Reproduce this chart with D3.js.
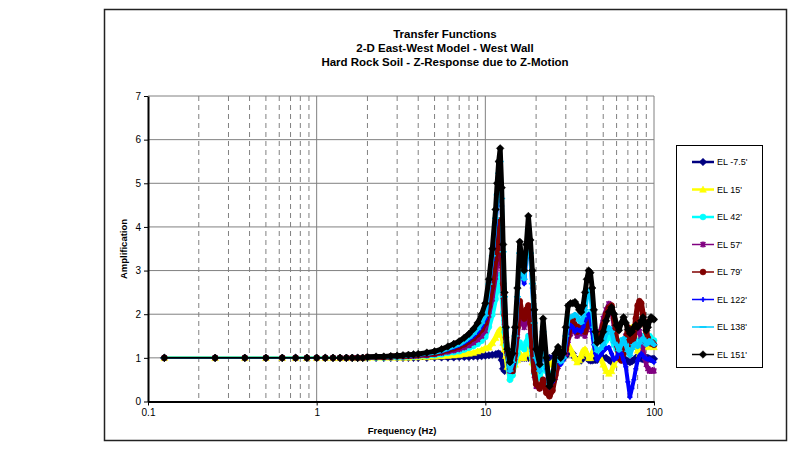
<!DOCTYPE html>
<html>
<head>
<meta charset="utf-8">
<script src="https://cdn.jsdelivr.net/npm/d3@7"></script>
<style>
  body { margin: 0; background: #fff; }
  svg { display: block; font-family: Arial, 'Liberation Sans', sans-serif; }
</style>
</head>
<body>
<script>
// sample frequencies (Hz)
const freqs = [
  0.125, 0.25, 0.375, 0.5, 0.625, 0.75, 0.875, 1, 1.125, 1.25, 1.375, 1.5, 1.625, 1.75, 1.875,
  2, 2.25, 2.5, 2.75, 3, 3.25, 3.5, 3.75, 4, 4.5, 5, 5.5, 6, 6.5, 7, 7.5, 8, 8.5, 9, 9.5, 10,
  10.5, 11, 11.5, 11.75, 12, 12.25, 12.5, 12.75, 13, 13.25, 13.5,
  14, 14.5, 15, 15.5, 16, 16.5, 17, 17.5, 18, 18.5, 19, 19.5, 20,
  21, 22, 23, 24, 25, 26, 27, 28, 29, 30, 31, 32, 33, 34, 35, 36, 37, 38, 39, 40, 41, 42, 43, 44, 45, 46,
  48, 50, 52, 54, 56, 58, 60, 62, 64, 66, 68, 70, 72, 74, 76, 78, 80, 82, 84, 86, 88, 90, 92, 94, 96, 98, 100
];

const elM7_5 = [
  1, 1, 1, 1, 1, 1, 1, 1, 1, 1, 1, 1, 1, 1, 1,
  1, 1, 1, 1, 1, 1, 1, 1, 1, 1, 1.01, 1.01, 1.01, 1.01, 1.02, 1.02, 1.02, 1.03, 1.03, 1.04, 1.05,
  1.06, 1.07, 1.08, 1.09, 1.1, 1.08, 0.95, 0.75, 0.7, 0.8, 0.9,
  0.97, 1, 1, 1, 1, 1, 1, 1, 1, 1, 1, 1, 1,
  1, 1, 1, 1, 1, 1, 1, 1, 1.02, 1.05, 1.1, 1.15, 1.1, 1.0, 0.95, 0.95, 0.94, 1.0, 1.05, 1.0, 0.95, 0.94, 0.94, 0.95, 0.95, 0.95,
  1.0, 1.0, 1.0, 0.95, 0.9, 0.92, 0.98, 1.0, 1.02, 1.0, 0.95, 0.92, 0.9, 0.92, 0.95, 1.0, 1.02, 1.0, 0.98, 0.97, 0.98, 1.0, 1.0, 0.98, 0.97, 0.97, 0.98
];

const el15 = [
  1, 1, 1, 1, 1, 1, 1, 1, 1, 1, 1, 1, 1, 1, 1,
  1, 1.01, 1.01, 1.01, 1.01, 1.01, 1.01, 1.02, 1.02, 1.02, 1.03, 1.04, 1.05, 1.06, 1.07, 1.09, 1.1, 1.12, 1.15, 1.18, 1.22,
  1.24, 1.34, 1.46, 1.54, 1.61, 1.65, 1.53, 1.35, 1.2, 1.05, 0.8,
  0.55, 0.65, 0.85, 0.95, 1.1, 1.0, 1.0, 1.15, 1.25, 1.1, 0.9, 0.7, 0.6,
  0.65, 0.75, 0.8, 0.85, 0.9, 0.95, 1.0, 1.05, 1.15, 1.3, 1.3, 1.2, 1.1, 1.0, 0.9, 0.95, 1.05, 1.17, 1.2, 1.1, 1.0, 1.0, 1.1, 1.2, 1.2, 1.15,
  1.0, 0.85, 0.7, 0.64, 0.7, 0.85, 1.0, 1.1, 1.2, 1.3, 1.35, 1.45, 1.6, 1.7, 1.6, 1.35, 1.17, 1.1, 1.2, 1.3, 1.33, 1.3, 1.25, 1.3, 1.33, 1.3, 1.25
];

const el42 = [
  1, 1, 1, 1, 1, 1, 1, 1, 1, 1, 1, 1, 1, 1, 1,
  1.01, 1.01, 1.01, 1.02, 1.02, 1.02, 1.03, 1.03, 1.04, 1.05, 1.06, 1.08, 1.11, 1.13, 1.15, 1.19, 1.23, 1.27, 1.32, 1.39, 1.48,
  1.71, 1.99, 2.35, 2.58, 2.79, 2.9, 2.54, 2.03, 1.59, 1.29, 1.08,
  0.5, 0.6, 0.9, 1.1, 1.35, 1.25, 1.2, 1.35, 1.5, 1.3, 1.0, 0.65, 0.5,
  0.55, 0.8, 0.7, 0.6, 0.65, 0.8, 0.95, 0.95, 1.0, 1.2, 1.5, 1.6, 1.65, 1.7, 1.6, 1.55, 1.6, 1.7, 1.8, 1.9, 2.0, 1.95, 1.7, 1.45, 1.2, 1.1,
  1.15, 1.25, 1.4, 1.5, 1.45, 1.3, 1.2, 1.3, 1.4, 1.35, 1.25, 1.2, 1.3, 1.4, 1.45, 1.4, 1.35, 1.4, 1.45, 1.5, 1.45, 1.4, 1.45, 1.5, 1.45, 1.4, 1.4
];

const el57 = [
  1, 1, 1, 1, 1, 1, 1, 1, 1, 1, 1, 1, 1, 1, 1,
  1.01, 1.02, 1.02, 1.02, 1.03, 1.03, 1.04, 1.04, 1.05, 1.06, 1.08, 1.11, 1.14, 1.17, 1.2, 1.24, 1.29, 1.35, 1.42, 1.5, 1.62,
  1.98, 2.35, 2.85, 3.16, 3.44, 3.6, 3.11, 2.4, 1.81, 1.39, 1.1,
  0.7, 0.7, 1.0, 1.5, 1.95, 1.8, 1.7, 1.85, 1.95, 1.6, 1.1, 0.6, 0.35,
  0.3, 0.45, 0.3, 0.2, 0.3, 0.55, 0.8, 0.95, 1.0, 1.1, 1.4, 1.55, 1.7, 1.6, 1.5, 1.55, 1.6, 1.55, 1.5, 1.65, 1.8, 1.85, 1.65, 1.5, 1.4, 1.4,
  1.6, 1.9, 2.1, 2.24, 2.1, 1.7, 1.3, 1.0, 1.05, 1.2, 1.5, 1.6, 1.4, 1.3, 1.4, 1.6, 1.7, 1.6, 1.4, 1.2, 1.0, 0.85, 0.75, 0.7, 0.7, 0.72, 0.7
];

const el79 = [
  1, 1, 1, 1, 1, 1, 1, 1, 1, 1, 1, 1, 1, 1, 1,
  1.02, 1.02, 1.02, 1.03, 1.04, 1.04, 1.05, 1.06, 1.06, 1.08, 1.1, 1.14, 1.18, 1.22, 1.26, 1.31, 1.38, 1.45, 1.54, 1.65, 1.8,
  2.18, 2.64, 3.24, 3.61, 3.96, 4.15, 3.55, 2.7, 1.98, 1.47, 1.13,
  0.75, 0.7, 1.1, 1.7, 2.3, 2.0, 1.9, 2.1, 2.2, 1.8, 1.25, 0.7, 0.4,
  0.3, 0.5, 0.2, 0.12, 0.25, 0.6, 0.9, 1.0, 1.1, 1.2, 1.5, 1.7, 1.9, 1.75, 1.6, 1.7, 1.75, 1.65, 1.6, 1.75, 1.9, 1.93, 1.7, 1.55, 1.45, 1.4,
  1.5, 1.75, 2.0, 2.15, 2.2, 1.9, 1.4, 1.0, 0.94, 1.1, 1.4, 1.7, 1.5, 1.3, 1.5, 1.9, 2.2, 2.3, 2.25, 2.0, 1.78, 1.6, 1.45, 1.35, 1.33, 1.35, 1.3
];

const el122 = [
  1, 1, 1, 1, 1, 1, 1, 1, 1, 1, 1, 1, 1, 1, 1,
  1.02, 1.02, 1.03, 1.03, 1.04, 1.05, 1.05, 1.06, 1.07, 1.09, 1.12, 1.15, 1.2, 1.24, 1.29, 1.35, 1.42, 1.5, 1.6, 1.73, 1.9,
  2.61, 3.24, 4.05, 4.57, 5.04, 5.3, 4.48, 3.32, 2.33, 1.65, 1.17,
  0.7, 0.85, 1.4, 2.3, 3.3, 2.9, 2.7, 3.3, 3.85, 3.3, 2.6, 1.7, 0.95,
  0.7, 1.5, 0.75, 0.35, 0.45, 0.9, 1.0, 0.85, 0.95, 1.3, 1.65, 1.75, 1.7, 1.6, 1.65, 1.63, 1.6, 1.7, 1.85, 1.95, 2.0, 1.9, 1.6, 1.3, 1.1, 0.95,
  1.05, 1.15, 1.22, 1.24, 1.1, 0.95, 1.0, 1.15, 1.1, 0.95, 0.8, 0.45, 0.1, 0.3, 0.5, 0.75, 0.94, 1.05, 1.1, 1.05, 1.0, 0.98, 0.97, 0.98, 0.95, 0.93, 0.9
];

const el138 = [
  1, 1, 1, 1, 1, 1, 1, 1, 1, 1, 1, 1, 1, 1, 1,
  1.02, 1.02, 1.03, 1.03, 1.04, 1.05, 1.06, 1.07, 1.08, 1.1, 1.12, 1.16, 1.21, 1.26, 1.31, 1.38, 1.46, 1.55, 1.66, 1.8, 1.97,
  2.69, 3.34, 4.2, 4.74, 5.23, 5.5, 4.65, 3.43, 2.4, 1.68, 1.18,
  0.7, 0.9, 1.5, 2.4, 3.4, 3.0, 2.8, 3.4, 3.95, 3.4, 2.7, 1.8, 1.0,
  0.7, 1.6, 0.8, 0.4, 0.5, 0.95, 1.1, 0.9, 1.0, 1.5, 1.9, 1.95, 1.95, 2.0, 1.95, 1.85, 1.8, 1.95, 2.1, 2.4, 2.55, 2.5, 2.1, 1.7, 1.3, 1.15,
  1.2, 1.3, 1.55, 1.7, 1.6, 1.35, 1.3, 1.17, 1.3, 1.45, 1.3, 1.15, 1.05, 1.2, 1.3, 1.33, 1.25, 1.33, 1.4, 1.45, 1.4, 1.3, 1.33, 1.4, 1.38, 1.33, 1.3
];

const el151 = [
  1, 1, 1, 1, 1, 1, 1, 1, 1, 1, 1, 1, 1, 1, 1,
  1.02, 1.03, 1.03, 1.04, 1.05, 1.06, 1.07, 1.08, 1.09, 1.12, 1.15, 1.2, 1.26, 1.32, 1.38, 1.46, 1.55, 1.66, 1.8, 2.0, 2.25,
  2.8, 3.5, 4.4, 5.0, 5.5, 5.8, 4.9, 3.6, 2.5, 1.7, 1.2,
  0.9, 1.1, 1.7, 2.6, 3.66, 3.2, 3.0, 3.6, 4.25, 3.7, 3.0, 2.1, 1.2,
  0.85, 1.9, 1.0, 0.35, 0.5, 1.1, 1.25, 1.0, 1.1, 1.7, 2.2, 2.25, 2.25, 2.28, 2.2, 2.1, 2.05, 2.2, 2.5, 2.8, 3.0, 2.95, 2.6, 2.1, 1.6, 1.35,
  1.4, 1.6, 1.85, 2.05, 2.16, 2.0, 1.75, 1.63, 1.8, 1.93, 1.8, 1.65, 1.56, 1.6, 1.7, 1.75, 1.7, 1.75, 1.85, 1.93, 1.8, 1.63, 1.7, 1.85, 1.93, 1.9, 1.88
];

const seriesNames = ["EL -7.5'", "EL 15'", "EL 42'", "EL 57'", "EL 79'", "EL 122'", "EL 138'", "EL 151'"];
const seriesValues = [elM7_5, el15, el42, el57, el79, el122, el138, el151];
const seriesColors = ['#000080', '#ffff00', '#00ffff', '#800080', '#800000', '#0000ff', '#00ccff', '#000000'];
const seriesMarkers = ['diamond', 'triangle', 'circle', 'star', 'circle', 'plus', 'dash', 'diamond'];
// how wide the dense run of markers looks once the samples crowd together
const bandWidths = [4.5, 5, 5, 4.5, 5.5, 4, 4.5, 5];

const yTicks = [0, 1, 2, 3, 4, 5, 6, 7];
const xTicks = [0.1, 1, 10, 100];
const titleLines = ['Transfer Functions', '2-D East-West Model - West Wall', 'Hard Rock Soil - Z-Response due to Z-Motion'];

const W = 804, H = 452;
const plot = {left: 148, right: 654, top: 96, bottom: 401.5};

const svg = d3.select('body').append('svg')
  .attr('width', W)
  .attr('height', H);

// outer chart frame
svg.append('rect')
  .attr('x', 104.5).attr('y', 9.5)
  .attr('width', 682).attr('height', 431)
  .attr('fill', '#fff')
  .attr('stroke', '#222')
  .attr('stroke-width', 1.5);

const x = d3.scaleLog().domain([0.1, 100]).range([plot.left, plot.right]);
const y = d3.scaleLinear().domain([0, 7]).range([plot.bottom, plot.top]);

// title
svg.append('g').selectAll('text')
  .data(titleLines)
  .join('text')
  .attr('x', 445)
  .attr('y', (d, i) => 37.5 + i * 14.3)
  .attr('text-anchor', 'middle')
  .style('font-size', '11.5px')
  .style('font-weight', 'bold')
  .text(d => d);

// grid
const isDecade = d => Math.abs(Math.log10(d) - Math.round(Math.log10(d))) < 1e-6;
const minor = x.ticks().filter(d => !isDecade(d));

svg.append('g').selectAll('line')
  .data(minor)
  .join('line')
  .attr('x1', d => x(d)).attr('x2', d => x(d))
  .attr('y1', plot.top).attr('y2', plot.bottom)
  .attr('stroke', '#808080')
  .attr('stroke-dasharray', '5,4');

svg.append('g').selectAll('line')
  .data(xTicks.filter(d => d > 0.1))
  .join('line')
  .attr('x1', d => x(d)).attr('x2', d => x(d))
  .attr('y1', plot.top).attr('y2', plot.bottom)
  .attr('stroke', '#808080');

svg.append('g').selectAll('line')
  .data(yTicks.filter(d => d > 0))
  .join('line')
  .attr('x1', plot.left).attr('x2', plot.right)
  .attr('y1', d => y(d)).attr('y2', d => y(d))
  .attr('stroke', '#808080');

// axes
const yAxis = svg.append('g')
  .attr('transform', `translate(${plot.left},0)`)
  .call(d3.axisLeft(y).tickValues(yTicks).tickSize(4).tickSizeOuter(0).tickFormat(d3.format('d')));

const xAxis = svg.append('g')
  .attr('transform', `translate(0,${plot.bottom})`)
  .call(d3.axisBottom(x).tickValues(xTicks).tickSize(4).tickSizeOuter(0).tickFormat(d => String(d)));

[xAxis, yAxis].forEach(a => {
  a.select('.domain').attr('stroke', '#000').attr('stroke-width', 2);
  a.selectAll('.tick line').attr('stroke', '#000');
  a.selectAll('.tick text')
    .attr('fill', '#000')
    .style('font-size', '10px')
    .style('font-family', 'Arial, "Liberation Sans", sans-serif');
});

svg.append('text')
  .attr('transform', 'translate(127,249) rotate(-90)')
  .attr('text-anchor', 'middle')
  .style('font-size', '9.5px')
  .style('font-weight', 'bold')
  .text('Amplification');

svg.append('text')
  .attr('x', 402).attr('y', 434)
  .attr('text-anchor', 'middle')
  .style('font-size', '9.5px')
  .style('font-weight', 'bold')
  .text('Frequency (Hz)');

// marker shapes
function markerPath(type) {
  if (type === 'diamond') return 'M0,-3.8L3.8,0L0,3.8L-3.8,0Z';
  if (type === 'triangle') return 'M0,-3.4L3.4,2.8L-3.4,2.8Z';
  if (type === 'circle') return d3.symbol(d3.symbolCircle, 28)();
  if (type === 'star') return 'M-2.4,-2.4L2.4,2.4M-2.4,2.4L2.4,-2.4M0,-3V3';
  if (type === 'plus') return 'M-2.5,0H2.5M0,-2.5V2.5';
  if (type === 'dash') return 'M-3.5,0H3.5';
  return '';
}
const isOpen = t => t === 'star' || t === 'plus' || t === 'dash';

svg.append('clipPath').attr('id', 'plot-clip')
  .append('rect')
  .attr('x', plot.left).attr('y', plot.top - 4)
  .attr('width', plot.right - plot.left + 4).attr('height', plot.bottom - plot.top + 4);

const line = d3.line()
  .x(d => x(d[0]))
  .y(d => y(d[1]));

const series = svg.append('g').attr('clip-path', 'url(#plot-clip)');

seriesValues.forEach((vals, i) => {
  const pts = freqs.map((f, j) => [f, vals[j]]);
  const g = series.append('g');
  g.append('path')
    .datum(pts)
    .attr('d', line)
    .attr('fill', 'none')
    .attr('stroke', seriesColors[i])
    .attr('stroke-width', i < 3 ? 2.5 : 1.8);
  // above ~2 Hz the markers overlap into a solid band
  g.append('path')
    .datum(pts.filter(d => d[0] >= 2))
    .attr('d', line)
    .attr('fill', 'none')
    .attr('stroke', seriesColors[i])
    .attr('stroke-width', bandWidths[i])
    .attr('stroke-linejoin', 'round')
    .attr('stroke-linecap', 'round');
  g.selectAll('path.mk')
    .data(pts)
    .join('path')
    .attr('class', 'mk')
    .attr('transform', d => `translate(${x(d[0])},${y(d[1])})`)
    .attr('d', markerPath(seriesMarkers[i]))
    .attr('fill', isOpen(seriesMarkers[i]) ? 'none' : seriesColors[i])
    .attr('stroke', seriesColors[i])
    .attr('stroke-width', isOpen(seriesMarkers[i]) ? 1.6 : 0.5);
});

// legend
const legend = svg.append('g');
legend.append('rect')
  .attr('x', 676.5).attr('y', 145.5)
  .attr('width', 86).attr('height', 222)
  .attr('fill', '#fff')
  .attr('stroke', '#000');

const items = legend.selectAll('g.item')
  .data(seriesNames)
  .join('g')
  .attr('class', 'item')
  .attr('transform', (d, i) => `translate(0,${162 + i * 27.5})`);

items.append('line')
  .attr('x1', 692).attr('x2', 714)
  .attr('stroke', (d, i) => seriesColors[i])
  .attr('stroke-width', (d, i) => i < 3 ? 2.5 : 1.5);

items.append('path')
  .attr('transform', 'translate(703,0)')
  .attr('d', (d, i) => markerPath(seriesMarkers[i]))
  .attr('fill', (d, i) => isOpen(seriesMarkers[i]) ? 'none' : seriesColors[i])
  .attr('stroke', (d, i) => seriesColors[i])
  .attr('stroke-width', (d, i) => isOpen(seriesMarkers[i]) ? 1.6 : 0.5);

items.append('text')
  .attr('x', 717).attr('y', 3.2)
  .style('font-size', '9px')
  .text(d => d);
</script>
</body>
</html>
